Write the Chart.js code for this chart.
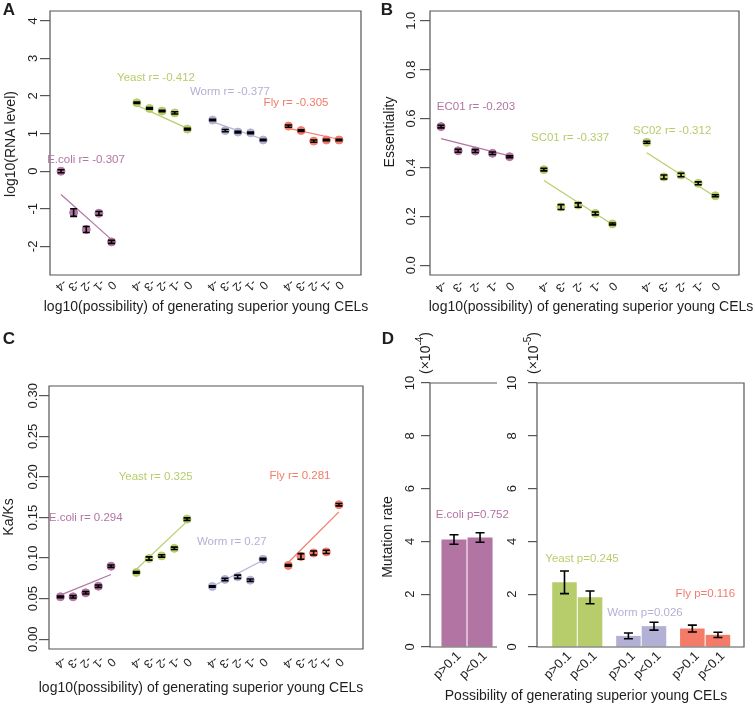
<!DOCTYPE html>
<html>
<head>
<meta charset="utf-8">
<script src="https://cdn.jsdelivr.net/npm/chart.js@4.4.1/dist/chart.umd.min.js"></script>
<style>
    html, body { margin: 0; padding: 0; background: #fff; }
    #wrap { position: relative; width: 755px; height: 707px; overflow: hidden; background: #fff; }
    #wrap canvas { position: absolute; left: 0; top: 0; }
</style>
</head>
<body>
<div id="wrap">
    <canvas id="panelA" width="755" height="707"></canvas>
    <canvas id="panelB" width="755" height="707"></canvas>
    <canvas id="panelC" width="755" height="707"></canvas>
    <canvas id="panelD1" width="755" height="707"></canvas>
    <canvas id="panelD2" width="755" height="707"></canvas>
</div>
<script>
// ------------------------------
// Data
// ------------------------------
const xTickText = ['-4', '-3', '-2', '-1', '0'];
const barTickText = ['p>0.1', 'p<0.1'];

// A: log10(RNA level)
const rnaTicks = [-2, -1, 0, 1, 2, 3, 4];
const rnaEcoli = [0.00, -1.10, -1.55, -1.12, -1.88];
const rnaYeast = [1.82, 1.67, 1.60, 1.55, 1.12];
const rnaWorm = [1.36, 1.08, 1.04, 1.02, 0.83];
const rnaFly = [1.20, 1.08, 0.80, 0.83, 0.83];
const rnaEcoliSe = [0.04, 0.10, 0.08, 0.05, 0.04];
const rnaYeastSe = [0.02, 0.02, 0.02, 0.03, 0.02];
const rnaWormSe = [0.02, 0.03, 0.02, 0.02, 0.02];
const rnaFlySe = [0.03, 0.02, 0.03, 0.02, 0.02];
const rnaFitEcoli = [-0.62, -1.82];
const rnaFitYeast = [1.75, 1.14];
const rnaFitWorm = [1.31, 0.85];
const rnaFitFly = [1.14, 0.85];
const rnaR = ['-0.307', '-0.412', '-0.377', '-0.305'];

// B: essentiality
const essTicks = [0, 0.2, 0.4, 0.6, 0.8, 1.0];
const essEC01 = [0.567, 0.468, 0.467, 0.458, 0.444];
const essSC01 = [0.391, 0.238, 0.246, 0.212, 0.169];
const essSC02 = [0.503, 0.361, 0.369, 0.335, 0.284];
const essEC01Se = [0.005, 0.006, 0.006, 0.005, 0.004];
const essSC01Se = [0.005, 0.010, 0.009, 0.006, 0.004];
const essSC02Se = [0.004, 0.008, 0.007, 0.006, 0.004];
const essFitEC01 = [0.518, 0.447];
const essFitSC01 = [0.347, 0.167];
const essFitSC02 = [0.460, 0.280];
const essR = ['-0.203', '-0.337', '-0.312'];

// C: Ka/Ks
const kaksTicks = [0, 0.05, 0.10, 0.15, 0.20, 0.25, 0.30];
const kaksEcoli = [0.0523, 0.0523, 0.0572, 0.0654, 0.0900];
const kaksYeast = [0.0823, 0.0995, 0.1027, 0.1120, 0.1480];
const kaksWorm = [0.0650, 0.0737, 0.0770, 0.0728, 0.0986];
const kaksFly = [0.0909, 0.1020, 0.1063, 0.1076, 0.1658];
const kaksEcoliSe = [0.0010, 0.0015, 0.0015, 0.0015, 0.0015];
const kaksYeastSe = [0.0010, 0.0020, 0.0015, 0.0015, 0.0015];
const kaksWormSe = [0.0010, 0.0015, 0.0020, 0.0015, 0.0010];
const kaksFlySe = [0.0010, 0.0035, 0.0025, 0.0020, 0.0015];
const kaksFitEcoli = [0.0544, 0.0798];
const kaksFitYeast = [0.0863, 0.1453];
const kaksFitWorm = [0.0650, 0.0974];
const kaksFitFly = [0.0946, 0.1570];
const kaksR = ['0.294', '0.325', '0.27', '0.281'];

// D: mutation rate (E.coli x1e-4, others x1e-5)
const rateTicks = [0, 2, 4, 6, 8, 10];
const rateEcoli = [4.07, 4.15];
const rateYeast = [2.45, 1.88];
const rateWorm = [0.42, 0.79];
const rateFly = [0.70, 0.46];
const rateEcoliSe = [0.18, 0.18];
const rateYeastSe = [0.43, 0.24];
const rateWormSe = [0.11, 0.15];
const rateFlySe = [0.13, 0.10];
const rateP = ['0.752', '0.245', '0.026', '0.116'];

// ------------------------------
// Look
// ------------------------------
const W = 755, H = 707;
const FONT = "'Liberation Sans', Arial, Helvetica, sans-serif";
const INK = '#1e1e1e';
const AXIS = '#555555';
const cEcoli = '#B274A3';
const cYeast = '#B7CD6B';
const cWorm = '#B2B1D5';
const cFly = '#F37B68';

// ------------------------------
// Small text helper (canvas)
// ------------------------------
function txt(ctx, s, x, y, o) {
    ctx.save();
    ctx.font = (o.weight || 'normal') + ' ' + (o.size || 14) + 'px ' + FONT;
    ctx.fillStyle = o.color || INK;
    ctx.textAlign = o.align || 'center';
    ctx.textBaseline = o.base || 'middle';
    ctx.translate(x, y);
    if (o.rot) ctx.rotate(o.rot);
    ctx.fillText(s, 0, 0);
    ctx.restore();
}

// "(x10^-n)" written vertically
function multLabel(ctx, cx, cy, power) {
    ctx.save();
    ctx.translate(cx, cy);
    ctx.rotate(-Math.PI / 2);
    ctx.fillStyle = INK;
    ctx.textBaseline = 'middle';
    ctx.font = '14px ' + FONT;
    const a = '(\u00d710', c = ')';
    const wa = ctx.measureText(a).width, wc = ctx.measureText(c).width;
    ctx.font = '10px ' + FONT;
    const wb = ctx.measureText(power).width;
    let x = -(wa + wb + wc) / 2;
    ctx.textAlign = 'left';
    ctx.font = '14px ' + FONT;
    ctx.fillText(a, x, 0);
    ctx.font = '10px ' + FONT;
    ctx.fillText(power, x + wa, -6);
    ctx.font = '14px ' + FONT;
    ctx.fillText(c, x + wa + wb, 0);
    ctx.restore();
}

// ------------------------------
// Plugin: frame, error bars, R-style labels
// ------------------------------
function decor(p) {
    return {
        id: 'decor',
        afterDatasetsDraw(chart) {
            const ctx = chart.ctx, xs = chart.scales.x, ys = chart.scales.y;
            ctx.save();
            ctx.strokeStyle = '#000';
            ctx.lineWidth = 1.6;
            p.errs.forEach(e => {
                const px = xs.getPixelForValue(e.x);
                const y1 = ys.getPixelForValue(e.y - e.se);
                const y2 = ys.getPixelForValue(e.y + e.se);
                ctx.beginPath();
                ctx.moveTo(px, y1); ctx.lineTo(px, y2);
                ctx.moveTo(px - p.cap, y1); ctx.lineTo(px + p.cap, y1);
                ctx.moveTo(px - p.cap, y2); ctx.lineTo(px + p.cap, y2);
                ctx.stroke();
            });
            ctx.restore();
        },
        afterDraw(chart) {
            const ctx = chart.ctx, a = chart.chartArea, xs = chart.scales.x, ys = chart.scales.y;
            // frame
            ctx.save();
            ctx.strokeStyle = AXIS;
            ctx.lineWidth = 1.2;
            ctx.beginPath();
            if (p.open) {
                ctx.moveTo(a.right, a.top); ctx.lineTo(a.left, a.top);
                ctx.lineTo(a.left, a.bottom); ctx.lineTo(a.right, a.bottom);
            } else {
                ctx.rect(a.left, a.top, a.right - a.left, a.bottom - a.top);
            }
            ctx.stroke();
            ctx.restore();
            // y tick labels, vertical like R
            p.yTicks.forEach((v, i) => {
                txt(ctx, p.yTickText[i], p.yLabX, ys.getPixelForValue(v),
                    { rot: -Math.PI / 2, base: 'alphabetic', size: 13 });
            });
            // x tick labels
            p.xLabs.forEach(l => {
                txt(ctx, l.text, xs.getPixelForValue(l.x) + p.xLabDx, p.xLabY,
                    { rot: p.xLabRot, size: p.xLabSize, align: p.xLabAlign });
            });
            // coloured notes in data coordinates
            p.notes.forEach(n => {
                txt(ctx, n.text, xs.getPixelForValue(n.x), ys.getPixelForValue(n.y),
                    { size: 11.5, color: n.color });
            });
            // titles and panel letters
            p.texts.forEach(t => txt(ctx, t.text, t.x, t.y, t));
            if (p.mult) multLabel(ctx, p.mult[0], p.mult[1], p.mult[2]);
        }
    };
}

// ------------------------------
// Build a chart whose plot area is exactly p.box
// ------------------------------
function buildPanel(id, type, p) {
    return new Chart(document.getElementById(id), {
        type: type,
        data: { datasets: p.datasets },
        options: {
            responsive: false,
            animation: false,
            events: [],
            layout: { padding: { left: p.box[0] - p.tick, top: p.box[1], right: W - p.box[2], bottom: H - p.box[3] } },
            plugins: { legend: { display: false }, tooltip: { enabled: false } },
            scales: {
                x: { type: 'linear', display: false, min: p.x[0], max: p.x[1], offset: false },
                y: {
                    type: 'linear', min: p.y[0], max: p.y[1],
                    afterBuildTicks: s => { s.ticks = p.yTicks.map(v => ({ value: v })); },
                    afterFit: s => { s.width = p.tick; },
                    ticks: { display: false },
                    border: { display: false },
                    grid: { drawOnChartArea: false, drawTicks: true, tickLength: p.tick, color: AXIS, lineWidth: 1.2 }
                }
            }
        },
        plugins: [decor(p)]
    });
}

// groups of 5 points placed at 1-5, 7-11, 13-17, ...
function scatterParts(groups) {
    const datasets = [], errs = [], xLabs = [];
    groups.forEach((g, gi) => {
        const xs = g.vals.map((v, i) => gi * 6 + i + 1);
        datasets.push({
            data: g.vals.map((v, i) => ({ x: xs[i], y: v })),
            backgroundColor: g.color, borderColor: g.color,
            pointRadius: 4, borderWidth: 1, order: 0
        });
        datasets.push({
            data: [{ x: xs[0], y: g.fit[0] }, { x: xs[4], y: g.fit[1] }],
            showLine: true, borderColor: g.color, borderWidth: 1.2,
            pointRadius: 0, order: 1
        });
        g.vals.forEach((v, i) => errs.push({ x: xs[i], y: v, se: g.se[i] }));
        xTickText.forEach((t, i) => xLabs.push({ x: xs[i], text: t }));
    });
    return { datasets, errs, xLabs };
}

const xTitle = 'log10(possibility) of generating superior young CELs';
const rotTick = Math.PI * 0.75;

// ------------------------------
// Panel A
// ------------------------------
const partsA = scatterParts([
    { vals: rnaEcoli, se: rnaEcoliSe, fit: rnaFitEcoli, color: cEcoli },
    { vals: rnaYeast, se: rnaYeastSe, fit: rnaFitYeast, color: cYeast },
    { vals: rnaWorm, se: rnaWormSe, fit: rnaFitWorm, color: cWorm },
    { vals: rnaFly, se: rnaFlySe, fit: rnaFitFly, color: cFly }
]);
buildPanel('panelA', 'scatter', {
    box: [50, 11, 361, 275], tick: 10, x: [0.13, 24.74], y: [-2.76, 4.26],
    datasets: partsA.datasets, errs: partsA.errs, cap: 3.5,
    yTicks: rnaTicks, yTickText: rnaTicks.map(String), yLabX: 37,
    xLabs: partsA.xLabs, xLabY: 285, xLabRot: rotTick, xLabSize: 12, xLabAlign: 'center', xLabDx: 0,
    notes: [
        { x: 2.98, y: 0.29, text: 'E.coli r= ' + rnaR[0], color: cEcoli },
        { x: 8.52, y: 2.48, text: 'Yeast r= ' + rnaR[1], color: cYeast },
        { x: 14.37, y: 2.11, text: 'Worm r= ' + rnaR[2], color: cWorm },
        { x: 19.6, y: 1.81, text: 'Fly r= ' + rnaR[3], color: cFly }
    ],
    texts: [
        { text: 'A', x: 9, y: 10, size: 17, weight: 'bold' },
        { text: xTitle, x: 206, y: 307, size: 14 },
        { text: 'log10(RNA level)', x: 11, y: 144, size: 14, rot: -Math.PI / 2 }
    ]
});

// ------------------------------
// Panel B
// ------------------------------
const partsB = scatterParts([
    { vals: essEC01, se: essEC01Se, fit: essFitEC01, color: cEcoli },
    { vals: essSC01, se: essSC01Se, fit: essFitSC01, color: cYeast },
    { vals: essSC02, se: essSC02Se, fit: essFitSC02, color: cYeast }
]);
buildPanel('panelB', 'scatter', {
    box: [430, 11, 739, 275], tick: 10, x: [0.358, 18.38], y: [-0.04, 1.04],
    datasets: partsB.datasets, errs: partsB.errs, cap: 3.5,
    yTicks: essTicks, yTickText: essTicks.map(v => v.toFixed(1)), yLabX: 415,
    xLabs: partsB.xLabs, xLabY: 286, xLabRot: rotTick, xLabSize: 12, xLabAlign: 'center', xLabDx: 0,
    notes: [
        { x: 3.04, y: 0.648, text: 'EC01 r= ' + essR[0], color: cEcoli },
        { x: 8.53, y: 0.52, text: 'SC01 r= ' + essR[1], color: cYeast },
        { x: 14.48, y: 0.549, text: 'SC02 r= ' + essR[2], color: cYeast }
    ],
    texts: [
        { text: 'B', x: 387, y: 10, size: 17, weight: 'bold' },
        { text: xTitle, x: 591, y: 307, size: 14 },
        { text: 'Essentiality', x: 390, y: 132, size: 14, rot: -Math.PI / 2 }
    ]
});

// ------------------------------
// Panel C
// ------------------------------
const partsC = scatterParts([
    { vals: kaksEcoli, se: kaksEcoliSe, fit: kaksFitEcoli, color: cEcoli },
    { vals: kaksYeast, se: kaksYeastSe, fit: kaksFitYeast, color: cYeast },
    { vals: kaksWorm, se: kaksWormSe, fit: kaksFitWorm, color: cWorm },
    { vals: kaksFly, se: kaksFlySe, fit: kaksFitFly, color: cFly }
]);
buildPanel('panelC', 'scatter', {
    box: [49, 386, 363, 649], tick: 10, x: [0.1, 24.9], y: [-0.012, 0.312],
    datasets: partsC.datasets, errs: partsC.errs, cap: 3.5,
    yTicks: kaksTicks, yTickText: kaksTicks.map(v => v.toFixed(2)), yLabX: 37,
    xLabs: partsC.xLabs, xLabY: 662, xLabRot: rotTick, xLabSize: 12, xLabAlign: 'center', xLabDx: 0,
    notes: [
        { x: 3.0, y: 0.149, text: 'E.coli r= ' + kaksR[0], color: cEcoli },
        { x: 8.53, y: 0.200, text: 'Yeast r= ' + kaksR[1], color: cYeast },
        { x: 14.54, y: 0.120, text: 'Worm r= ' + kaksR[2], color: cWorm },
        { x: 19.92, y: 0.201, text: 'Fly r= ' + kaksR[3], color: cFly }
    ],
    texts: [
        { text: 'C', x: 9, y: 339, size: 17, weight: 'bold' },
        { text: xTitle, x: 201, y: 688, size: 14 },
        { text: 'Ka/Ks', x: 9, y: 517, size: 14, rot: -Math.PI / 2 }
    ]
});

// ------------------------------
// Panel D (two bar plots side by side)
// ------------------------------
const barX1 = [1, 2];
const barX2 = [1, 2, 3.5, 4.5, 6, 7];
const rate2 = rateYeast.concat(rateWorm, rateFly);
const rate2Se = rateYeastSe.concat(rateWormSe, rateFlySe);
const rate2Col = [cYeast, cYeast, cWorm, cWorm, cFly, cFly];

buildPanel('panelD1', 'bar', {
    box: [430, 383, 497, 647], tick: 9, x: [0.08, 2.65], y: [0, 10], open: true,
    datasets: [{
        data: rateEcoli.map((v, i) => ({ x: barX1[i], y: v })),
        backgroundColor: cEcoli, borderWidth: 0, barPercentage: 0.96, categoryPercentage: 1
    }],
    errs: rateEcoli.map((v, i) => ({ x: barX1[i], y: v, se: rateEcoliSe[i] })), cap: 4.5,
    yTicks: rateTicks, yTickText: rateTicks.map(String), yLabX: 414,
    xLabs: barX1.map((x, i) => ({ x: x, text: barTickText[i] })),
    xLabY: 654, xLabRot: -Math.PI / 4, xLabSize: 13, xLabAlign: 'right', xLabDx: 5,
    notes: [{ x: 1.70, y: 4.99, text: 'E.coli p=' + rateP[0], color: cEcoli }],
    texts: [
        { text: 'D', x: 388, y: 339, size: 17, weight: 'bold' },
        { text: 'Mutation rate', x: 388, y: 537, size: 14, rot: -Math.PI / 2 }
    ],
    mult: [426, 353, '-4']
});

buildPanel('panelD2', 'bar', {
    box: [537, 383, 744, 647], tick: 9, x: [-0.075, 8.02], y: [0, 10],
    datasets: [{
        data: rate2.map((v, i) => ({ x: barX2[i], y: v })),
        backgroundColor: rate2Col, borderWidth: 0, barPercentage: 0.96, categoryPercentage: 1
    }],
    errs: rate2.map((v, i) => ({ x: barX2[i], y: v, se: rate2Se[i] })), cap: 4.5,
    yTicks: rateTicks, yTickText: rateTicks.map(String), yLabX: 516,
    xLabs: barX2.map((x, i) => ({ x: x, text: barTickText[i % 2] })),
    xLabY: 654, xLabRot: -Math.PI / 4, xLabSize: 13, xLabAlign: 'right', xLabDx: 5,
    notes: [
        { x: 1.684, y: 3.33, text: 'Yeast p=' + rateP[1], color: cYeast },
        { x: 4.147, y: 1.29, text: 'Worm p=' + rateP[2], color: cWorm },
        { x: 6.51, y: 2.02, text: 'Fly p=' + rateP[3], color: cFly }
    ],
    texts: [
        { text: 'Possibility of generating superior young CELs', x: 586, y: 696, size: 14 }
    ],
    mult: [534, 353, '-5']
});
</script>
</body>
</html>
